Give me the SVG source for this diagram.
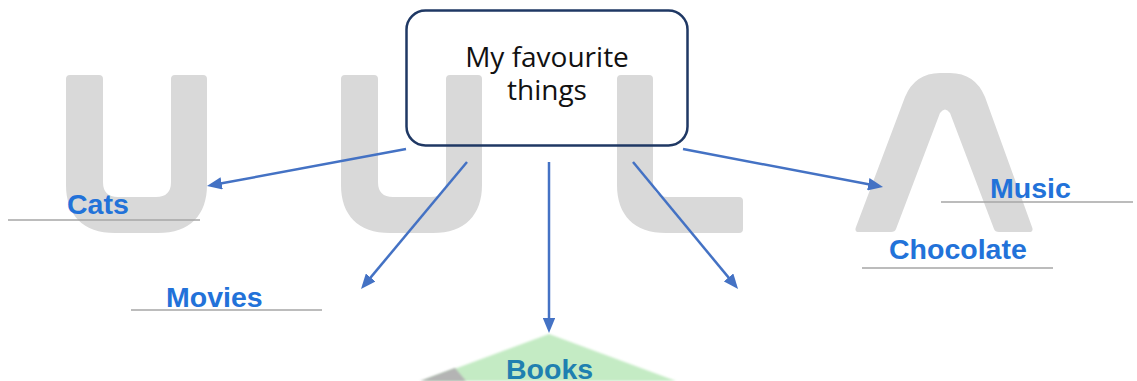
<svg xmlns="http://www.w3.org/2000/svg" width="1137" height="381" viewBox="0 0 1137 381">
<style>
.wm{fill:#d9d9d9}
.lbl{font-family:"Liberation Sans",Arial,sans-serif;font-weight:bold;font-size:28.5px;fill:#2272d9}
.ul{stroke:#a6a6a6;stroke-width:1.6}
.con{stroke:#4472c4;stroke-width:2.5;fill:none;marker-end:url(#ah)}
.ctr{font-family:"Open Sans","Liberation Sans",sans-serif;font-weight:400;font-size:28px;fill:#111;text-anchor:middle}
</style>
<defs>
<marker id="ah" markerWidth="6" markerHeight="5" refX="4.4" refY="2.5" orient="auto" markerUnits="strokeWidth">
<path d="M0,0 L6,2.5 L0,5 Z" fill="#4472c4"/>
</marker>
<filter id="bl" x="-10%" y="-10%" width="120%" height="120%"><feGaussianBlur stdDeviation="1"/></filter>
</defs>
<rect width="1137" height="381" fill="#fff"/>
<g id="watermark">
<path class="wm" d="M70,75 H99 Q103,75 103,79 V182 Q103,197 118,197 H156 Q171,197 171,182 V79 Q171,75 175,75 H203 Q207,75 207,79 V185 C207,215 190,233 158,233 H115 C83,233 66,215 66,185 V79 Q66,75 70,75 Z"/>
<path class="wm" d="M345,75 H374 Q378,75 378,79 V182 Q378,197 393,197 H431 Q446,197 446,182 V79 Q446,75 450,75 H478 Q482,75 482,79 V185 C482,215 465,233 433,233 H390 C358,233 341,215 341,185 V79 Q341,75 345,75 Z"/>
<path class="wm" d="M621,75 H649 Q653,75 653,79 V182 Q653,197 668,197 H739 Q743,197 743,201 V229 Q743,233 739,233 H666 C634,233 617,215 617,185 V79 Q617,75 621,75 Z"/>
<path class="wm" d="M859,232 Q854,232 856,227 L905,97 Q915,73 940,73 H950 Q975,73 985,97 L1032,227 Q1034,232 1029,232 H999 Q995,232 994,229 L950,113 Q945,106 940,113 L896,229 Q895,232 891,232 Z"/>
</g>
<g id="books-image">
<path d="M549,334 L676,381 L422,381 Z" fill="#c4ebc4" filter="url(#bl)"/>
<path d="M420,381 L455,368 L466,381 Z" fill="#b4b4b4" filter="url(#bl)"/>
</g>
<g id="connectors">
<line class="con" x1="406" y1="149" x2="210.9" y2="185.3"/>
<line class="con" x1="467" y1="162" x2="363.6" y2="285.9"/>
<line class="con" x1="549" y1="162" x2="549" y2="329"/>
<line class="con" x1="633" y1="162" x2="735.5" y2="285.9"/>
<line class="con" x1="683" y1="149" x2="879.1" y2="186.3"/>
</g>
<g id="center">
<rect x="406.5" y="10.5" width="281" height="135" rx="19" fill="none" stroke="#1f3864" stroke-width="2.5"/>
<text class="ctr" x="547" y="67">My favourite</text>
<text class="ctr" x="547" y="100">things</text>
</g>
<g id="cats">
<line class="ul" x1="8" y1="220" x2="200" y2="220"/>
<text class="lbl" x="67" y="214">Cats</text>
</g>
<g id="movies">
<line class="ul" x1="131" y1="310" x2="322" y2="310"/>
<text class="lbl" x="166" y="307">Movies</text>
</g>
<g id="books">
<text class="lbl" x="506" y="379" style="fill:#1f80b0">Books</text>
</g>
<g id="music">
<line class="ul" x1="941" y1="202" x2="1133" y2="202"/>
<text class="lbl" x="990" y="198">Music</text>
</g>
<g id="chocolate">
<line class="ul" x1="862" y1="268" x2="1053" y2="268"/>
<text class="lbl" x="889" y="259">Chocolate</text>
</g>
</svg>
